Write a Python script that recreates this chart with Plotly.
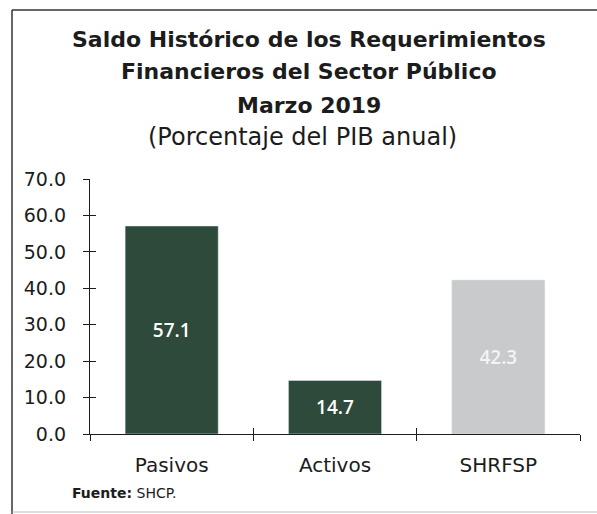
import plotly.graph_objects as go

categories = ["Pasivos", "Activos", "SHRFSP"]
values = [57.1, 14.7, 42.3]
bar_colors = ["#2e4a3b", "#2e4a3b", "#c9cacc"]
y_ticks = [0, 10, 20, 30, 40, 50, 60, 70]
y_tick_labels = [f"{v:.1f}" for v in y_ticks]

title_lines = [
    "Saldo Histórico de los Requerimientos",
    "Financieros del Sector Público",
    "Marzo 2019",
]
subtitle = "(Porcentaje del PIB anual)"
source_text = "<b>Fuente:</b> SHCP."

W, H = 597, 514
L, R, T, B = 90, 17, 179, 80
pw, ph = W - L - R, H - T - B

def px(x):
    return (x - L) / pw

def py(y):
    return (H - B - y) / ph

INK = "#1c1c1c"
FONT = "DejaVu Sans"

fig = go.Figure()
fig.add_trace(go.Bar(
    x=categories, y=values,
    marker=dict(color=bar_colors, line=dict(width=0)),
    width=0.57,
    text=[f"{v:.1f}" for v in values],
    textposition="inside", insidetextanchor="middle",
    textfont=dict(family="Open Sans", size=19, color=["white", "white", "#f4f4f4"], weight=600),
    hoverinfo="skip",
))
# invisible twin for crossing tick marks
fig.add_trace(go.Bar(
    x=categories, y=values, xaxis="x2", yaxis="y2",
    marker=dict(color="rgba(0,0,0,0)"), width=0.57, hoverinfo="skip",
))

fig.update_layout(
    width=W, height=H,
    margin=dict(l=L, r=R, t=T, b=B),
    paper_bgcolor="white", plot_bgcolor="white",
    showlegend=False,
    bargap=0.43,
    xaxis=dict(
        type="category", tickson="boundaries", ticks="outside", ticklen=6,
        tickwidth=1.3, tickcolor=INK, showline=True, linecolor=INK, linewidth=1.3,
        showgrid=False, tickfont=dict(family=FONT, size=20, color=INK),
        ticklabelstandoff=13,
    ),
    yaxis=dict(
        range=[0, 70], tickvals=y_ticks, ticktext=y_tick_labels,
        ticks="outside", ticklen=6, tickwidth=1.3, tickcolor=INK,
        showline=True, linecolor=INK, linewidth=1.3, showgrid=False, zeroline=False,
        tickfont=dict(family=FONT, size=19, color=INK),
        ticklabelstandoff=13,
    ),
    xaxis2=dict(
        type="category", overlaying="x", matches="x", tickson="boundaries",
        ticks="inside", ticklen=6, tickwidth=1.3, tickcolor=INK,
        showticklabels=False, showline=False, showgrid=False, anchor="y2",
    ),
    yaxis2=dict(
        overlaying="y", matches="y", tickvals=y_ticks, ticks="inside", ticklen=6,
        tickwidth=1.3, tickcolor=INK, showticklabels=False, showline=False,
        showgrid=False, zeroline=False, anchor="x2",
    ),
)

title_y = [40, 72, 106]
for line, yy in zip(title_lines, title_y):
    fig.add_annotation(
        text=f"<b>{line}</b>", x=px(309), y=py(yy), xref="paper", yref="paper",
        xanchor="center", yanchor="middle", showarrow=False,
        font=dict(family=FONT, size=22, color=INK),
    )
fig.add_annotation(
    text=subtitle, x=px(302), y=py(137), xref="paper", yref="paper",
    xanchor="center", yanchor="middle", showarrow=False,
    font=dict(family=FONT, size=24, color=INK),
)
fig.add_annotation(
    text=source_text, x=px(70), y=py(493), xref="paper", yref="paper",
    xanchor="left", yanchor="middle", showarrow=False,
    font=dict(family=FONT, size=14, color=INK),
)

# frame
fig.add_shape(type="line", xref="paper", yref="paper",
              x0=px(12), x1=px(12), y0=py(10), y1=py(514),
              line=dict(color="#333333", width=1.5))
fig.add_shape(type="line", xref="paper", yref="paper",
              x0=px(12), x1=px(597), y0=py(10), y1=py(10),
              line=dict(color="#333333", width=1.5))
fig.add_shape(type="line", xref="paper", yref="paper",
              x0=px(12), x1=px(597), y0=py(512), y1=py(512),
              line=dict(color="#bbbbbb", width=1))

fig.write_html("out.html", config={"displayModeBar": False},
               post_script="document.body.style.margin='0';document.body.style.overflow='hidden';")
